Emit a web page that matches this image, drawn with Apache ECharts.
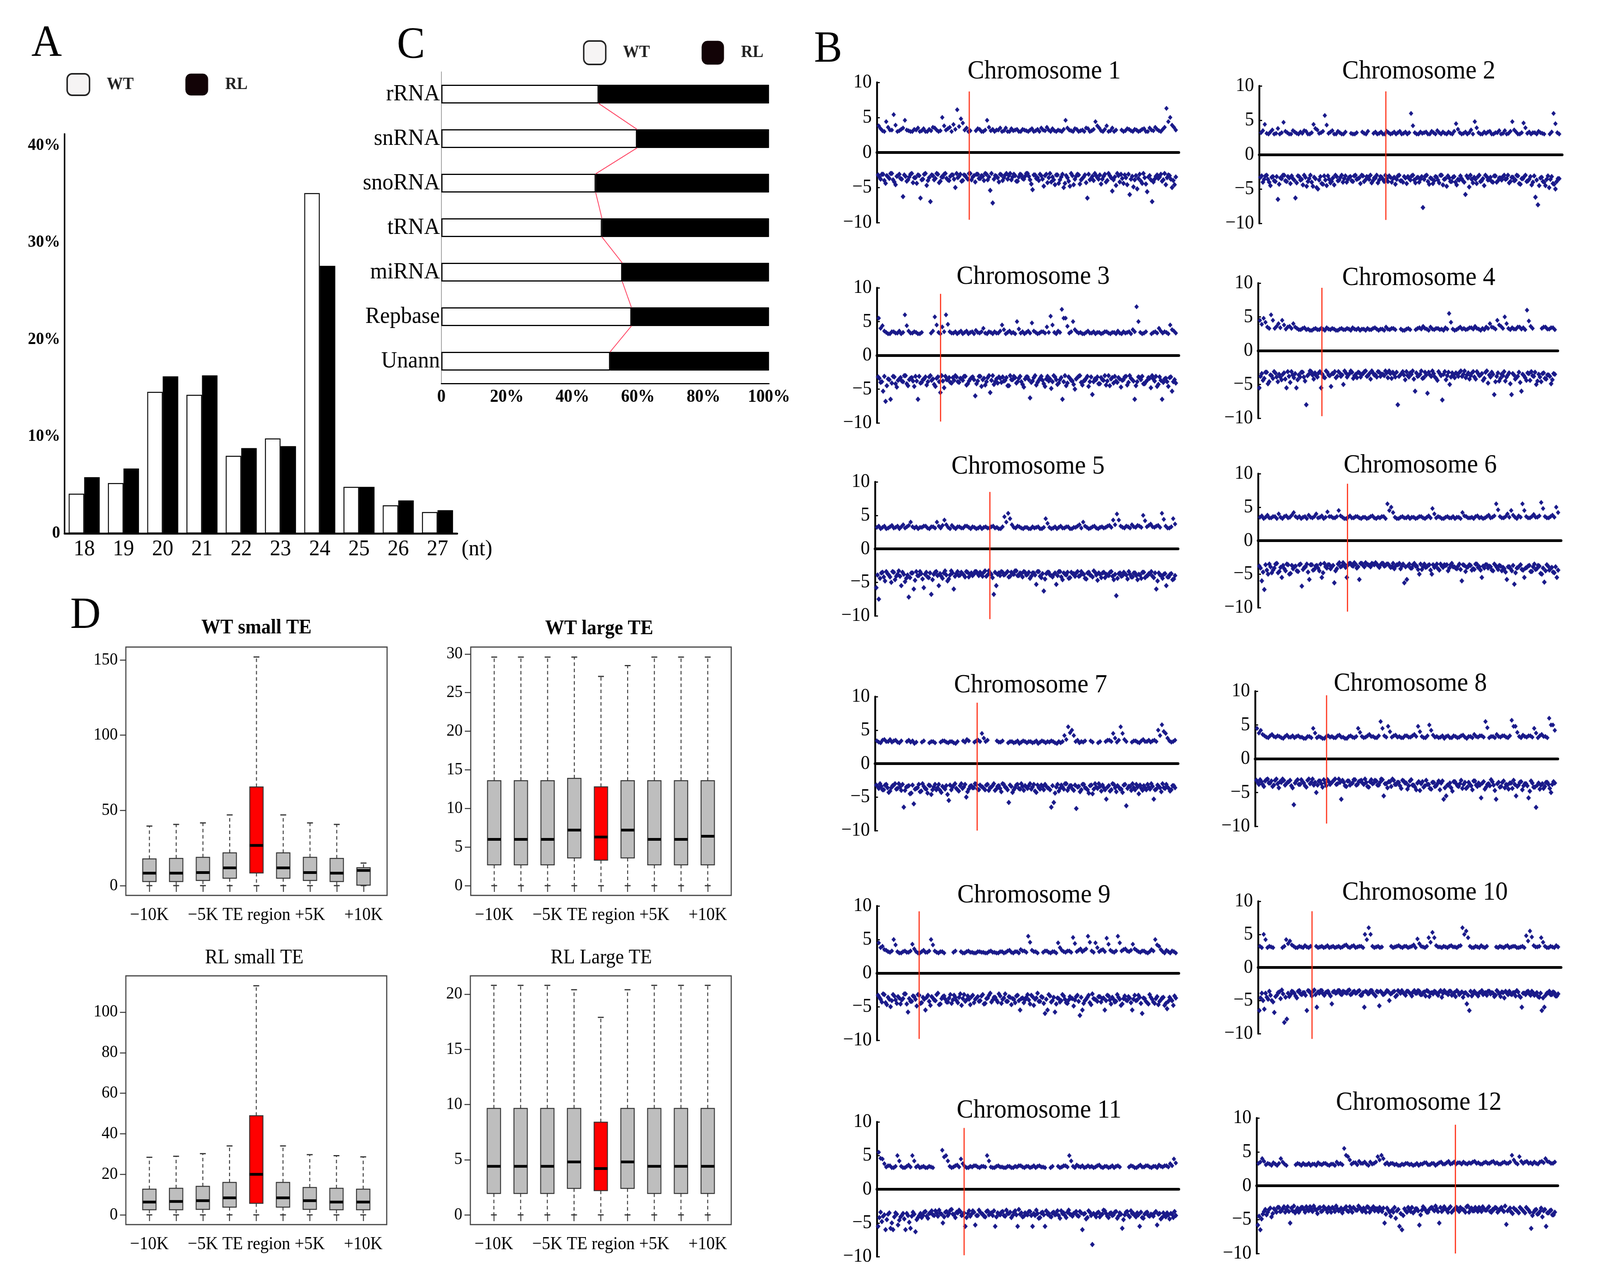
<!DOCTYPE html>
<html><head><meta charset="utf-8">
<script src="https://cdn.jsdelivr.net/npm/echarts@6/dist/echarts.min.js"></script>
<style>html,body{margin:0;padding:0;background:#fff;overflow:hidden}#c{width:4361px;height:3283px;transform-origin:0 0}</style>
</head><body><div id="c"></div>
<script>
const SERIF = '"Liberation Serif", "Times New Roman", serif';

// ---------- Panel A: length distribution ----------
const A_LENGTHS = ['18','19','20','21','22','23','24','25','26','27'];
const A_WT = [4.1, 5.2, 14.6, 14.3, 8.0, 9.8, 35.1, 4.8, 2.9, 2.2];
const A_RL = [5.8, 6.7, 16.2, 16.3, 8.8, 9.0, 27.6, 4.8, 3.4, 2.4];
const A_TICKS = [0, 10, 20, 30, 40];

// ---------- Panel C: annotation shares ----------
const C_CLASSES = ['rRNA','snRNA','snoRNA','tRNA','miRNA','Repbase','Unann'];
const C_WT = [48.0, 59.7, 47.1, 49.0, 55.2, 58.0, 51.5];
const C_RL = [52.0, 40.3, 52.9, 51.0, 44.8, 42.0, 48.5];

// ---------- Panel B: chromosome scatter ----------
const CHR_NAMES = ['Chromosome 1','Chromosome 2','Chromosome 3','Chromosome 4','Chromosome 5','Chromosome 6','Chromosome 7','Chromosome 8','Chromosome 9','Chromosome 10','Chromosome 11','Chromosome 12'];
const CHR_CENTRO = [0.306, 0.418, 0.211, 0.213, 0.379, 0.295, 0.337, 0.236, 0.140, 0.178, 0.289, 0.660];
const CHR_RED_TOP = [8.7, 9.2, 9.1, 9.3, 8.5, 8.5, 9.1, 9.4, 9.2, 8.5, 9.1, 9.0];
const CHR_RED_BOTTOM = [-9.6, -9.5, -9.8, -9.7, -10.5, -10.6, -10.0, -9.6, -9.8, -10.8, -9.8, -10.0];

const CHR1_UP = [3.8,3.1,4.4,3.2,5.4,3.0,3.3,4.6,3.1,3.0, 3.2,3.0,3.4,3.0,3.1,3.5,3.0,5.0,3.2,3.6, 4.0,6.1,4.8,3.2,3.0,null,3.1,3.3,3.0,4.6, 3.1,3.0,3.2,3.0,3.5,3.0,3.1,3.3,3.0,3.2, 3.0,3.4,3.1,3.0,3.2,3.6,3.0,3.1,3.2,3.0, 4.6,3.2,3.0,3.3,3.1,3.0,3.4,3.1,4.4,3.5, 3.0,3.8,3.1,3.0,null,3.2,3.1,3.3,3.0,3.2, 3.1,3.4,3.0,3.2,3.6,3.1,3.3,6.3,5.0,3.6];
const CHR1_UPB = [3.4,3.0,3.6,3.2,3.9,3.1,3.5,3.2,3.0,3.3, 3.5,3.1,3.0,3.3,3.6,3.2,3.1,3.8,3.4,3.0, 3.3,3.7,4.2,3.5,3.1,null,3.4,3.0,3.2,3.6, 3.3,3.2,3.5,3.1,3.0,3.4,3.2,3.0,3.3,3.1, 3.2,3.0,3.3,3.5,3.1,3.2,3.4,3.0,3.1,3.3, 3.5,3.1,3.4,3.0,3.2,3.5,3.0,3.3,3.8,3.1, 3.3,3.0,3.5,3.2,null,3.0,3.4,3.1,3.3,3.0, 3.3,3.0,3.5,3.1,3.3,3.0,3.6,4.4,3.9,3.2];
const CHR1_LOW = [-3.2,-3.8,-3.1,-4.4,-3.5,-3.0,-3.9,-4.6,-3.3,-3.7, -6.3,-3.4,-3.9,-3.1,-4.3,-3.6,-3.2,-6.5,-3.8,-3.0, -4.0,-7.0,-3.3,-3.7,-3.1,-4.1,-3.5,-3.0,-3.9,-3.4, -3.2,-5.0,-3.6,-3.1,-4.0,-3.3,-3.8,-3.0,-3.5,-4.2, -3.1,-3.7,-3.4,-3.0,-3.9,-5.4,-7.2,-3.3,-3.6,-3.1, -4.0,-3.2,-3.8,-3.0,-3.5,-3.3,-4.1,-3.1,-3.7,-3.4, -3.0,-3.9,-5.3,-3.2,-3.6,-3.1,-3.8,-3.3,-4.3,-3.0, -3.5,-4.6,-3.2,-3.9,-3.1,-4.4,-3.6,-4.8,-3.3,-3.8, -3.1,-4.5,-3.7,-3.2,-6.5,-3.9,-3.4,-3.0,-3.6,-3.2, -3.8,-3.1,-4.0,-3.3,-5.5,-3.5,-3.0,-4.2,-3.7,-3.2, -4.6,-6.0,-3.4,-3.9,-5.2,-3.1,-4.4,-3.6,-5.6,-3.3, -7.0,-3.8,-3.2,-3.5,-4.1,-3.0,-3.6,-3.3,-5.0,-4.6];
const CHR1_LOWB = [-3.5,-3.1,-4.0,-3.3,-3.7,-3.0,-4.2,-3.4,-3.1,-3.8, -3.2,-4.1,-3.5,-3.0,-3.6,-4.4,-3.3,-3.9,-3.1,-4.7, -3.6,-3.2,-3.9,-3.0,-4.3,-3.5,-3.1,-3.7,-4.0,-3.2, -3.8,-3.0,-3.4,-4.1,-3.2,-3.6,-3.0,-3.9,-3.3,-3.1, -3.7,-3.3,-4.0,-3.1,-3.5,-3.0,-3.8,-3.4,-4.2,-3.2, -3.6,-3.0,-3.3,-3.9,-3.1,-4.1,-3.5,-3.2,-3.8,-3.0, -3.4,-4.5,-3.2,-3.7,-4.0,-3.3,-4.8,-3.1,-3.6,-4.2, -3.9,-3.2,-4.4,-3.5,-5.0,-3.3,-4.1,-3.0,-4.6,-3.4, -3.2,-3.9,-3.5,-4.3,-3.1,-3.7,-4.0,-3.3,-3.8,-4.5, -3.4,-4.2,-3.0,-3.6,-3.9,-4.7,-3.3,-3.1,-4.4,-3.6, -3.1,-3.8,-4.9,-3.3,-3.7,-4.1,-3.0,-4.5,-3.5,-3.9, -4.2,-3.4,-3.7,-3.1,-3.9,-4.6,-3.2,-3.8,-4.0,-3.5];
const CHR2_UP = [3.2,4.4,3.0,3.6,3.1,3.0,4.7,3.2,3.0,3.3, 3.0,3.1,3.4,3.0,4.4,3.6,3.2,5.7,3.1,3.5, 3.0,3.2,3.0,null,3.1,3.0,null,3.3,3.0,null, 3.1,3.0,3.3,3.0,3.2,3.1,3.0,3.4,3.1,3.0, 6.0,3.2,3.0,3.1,3.3,3.0,3.2,3.5,3.0,3.1, 3.3,3.0,4.5,3.2,3.1,3.0,3.6,4.8,3.2,3.0, 3.1,3.4,3.0,3.2,3.0,3.5,3.1,4.8,3.3,3.0, 4.6,3.1,3.0,3.2,3.4,3.1,null,3.0,6.0,3.2];
const CHR2_UPB = [3.5,3.1,3.3,3.0,3.8,3.2,3.4,3.0,3.5,3.1, 3.3,3.5,3.0,3.2,3.8,3.1,3.4,4.3,3.3,3.0, 3.4,3.0,3.3,null,3.0,3.2,null,3.1,3.4,null, 3.3,3.1,3.0,3.4,3.0,3.3,3.2,3.0,3.3,3.2, 4.2,3.0,3.3,3.2,3.0,3.4,3.0,3.2,3.3,3.0, 3.1,3.4,3.7,3.0,3.3,3.2,3.0,3.9,3.0,3.3, 3.3,3.0,3.2,3.5,3.1,3.0,3.4,3.6,3.0,3.2, 3.9,3.3,3.2,3.0,3.2,3.0,null,3.3,4.5,3.0];
const CHR2_LOW = [-3.3,-4.0,-3.1,-3.6,-4.5,-3.2,-3.9,-6.5,-3.4,-3.0, -3.8,-3.2,-4.2,-3.5,-6.3,-3.1,-3.7,-4.4,-3.3,-3.9, -3.0,-4.6,-3.5,-5.0,-3.2,-4.3,-3.7,-3.1,-4.1,-3.4, -3.0,-3.8,-3.3,-4.0,-3.1,-3.6,-3.2,-3.9,-3.0,-3.5, -4.2,-3.1,-3.7,-3.3,-3.0,-3.8,-3.4,-4.1,-3.2,-3.6, -3.0,-3.9,-3.3,-3.5,-4.3,-3.1,-3.8,-4.0,-3.4,-3.2, -3.7,-3.0,-4.1,-3.3,-3.6,-7.7,-3.1,-3.9,-3.4,-4.2, -3.2,-3.7,-3.0,-4.4,-3.5,-3.1,-3.9,-3.3,-4.0,-3.6, -3.1,-3.8,-5.8,-3.4,-3.0,-4.1,-3.6,-3.2,-3.9,-3.5, -3.0,-3.7,-3.3,-4.0,-3.1,-3.8,-3.4,-3.2,-3.6,-3.0, -3.9,-3.3,-3.7,-3.1,-4.3,-3.5,-3.0,-3.8,-3.2,-4.0, -6.2,-7.3,-3.4,-3.9,-4.5,-3.1,-3.6,-4.2,-5.0,-3.5];
const CHR2_LOWB = [-3.1,-3.6,-3.0,-4.0,-3.3,-3.8,-3.2,-4.3,-3.5,-3.0, -3.9,-3.4,-3.1,-3.7,-4.1,-3.2,-3.6,-3.0,-4.6,-3.5, -4.0,-3.3,-4.8,-3.7,-4.2,-3.1,-4.5,-3.6,-3.9,-4.4, -3.2,-3.7,-3.0,-3.5,-4.0,-3.3,-3.8,-3.1,-3.6,-3.4, -3.0,-3.9,-3.2,-3.6,-4.1,-3.4,-3.0,-3.7,-3.3,-3.9, -3.5,-3.1,-4.0,-3.3,-3.6,-3.0,-3.8,-3.2,-4.2,-3.5, -3.1,-3.7,-3.4,-4.0,-3.2,-3.6,-3.0,-4.3,-3.5,-3.8, -3.3,-4.1,-3.0,-3.6,-4.6,-3.4,-3.9,-3.2,-4.4,-3.7, -3.5,-4.0,-3.1,-4.7,-3.6,-3.3,-4.2,-3.0,-3.8,-4.5, -3.2,-3.6,-3.9,-3.1,-4.0,-3.4,-3.7,-3.0,-3.5,-4.1, -3.3,-3.8,-3.0,-4.2,-3.5,-3.2,-3.9,-3.6,-4.4,-3.1, -3.7,-4.5,-3.3,-4.0,-3.6,-4.8,-3.2,-4.3,-3.9,-3.5];
const CHR3_UP = [5.5,4.4,3.4,3.2,3.5,3.3,3.2,6.0,3.6,3.3, 3.4,3.2,null,null,3.3,5.7,3.4,4.2,6.0,3.5, 3.3,3.2,3.6,3.4,3.2,3.5,3.7,3.3,4.0,3.2, 3.4,3.5,3.3,4.5,3.2,3.6,3.4,5.0,3.3,3.2, 3.6,4.8,3.4,3.3,3.5,4.2,5.8,3.4,3.6,6.8, 5.5,3.3,5.0,3.5,3.4,3.2,3.6,3.3,3.2,3.4, 3.3,3.5,3.2,3.4,3.6,3.2,3.3,3.5,3.8,7.2, 3.4,3.3,null,3.2,3.5,4.0,3.3,3.4,4.5,3.6];
const CHR3_UPB = [4.0,3.6,3.2,3.5,3.3,3.6,3.4,4.4,3.3,3.5, 3.2,3.4,null,null,3.6,4.5,3.2,3.5,4.6,3.3, 3.5,3.4,3.2,3.6,3.4,3.2,3.4,3.5,3.3,3.5, 3.2,3.3,3.6,3.8,3.4,3.3,3.2,3.9,3.5,3.4, 3.3,3.6,3.2,3.5,3.3,3.4,4.5,3.2,3.4,5.5, 4.3,3.5,3.8,3.3,3.2,3.4,3.3,3.5,3.4,3.2, 3.5,3.3,3.4,3.2,3.3,3.5,3.4,3.2,3.5,5.0, 3.2,3.5,null,3.4,3.3,3.6,3.5,3.2,3.8,3.3];
const CHR3_LOW = [-3.2,-4.0,-5.3,-6.8,-3.5,-6.5,-3.1,-4.2,-3.7,-3.3, -3.9,-3.0,-4.5,-3.4,-3.8,-3.1,-6.5,-4.1,-3.6,-3.2, -3.9,-3.0,-3.5,-4.6,-3.2,-5.5,-3.8,-3.1,-3.6,-4.0, -3.3,-3.0,-3.9,-3.4,-3.7,-3.1,-4.2,-3.5,-3.2,-6.0, -3.8,-3.1,-3.6,-4.4,-3.3,-5.5,-3.0,-3.9,-4.1,-3.4, -3.2,-3.7,-4.5,-3.0,-3.6,-3.3,-3.9,-3.1,-4.3,-3.5, -3.2,-6.3,-3.8,-3.0,-4.0,-3.4,-3.7,-4.6,-3.1,-3.5, -3.9,-3.2,-4.3,-3.6,-6.5,-3.0,-4.1,-3.4,-3.8,-5.0, -3.3,-3.0,-4.4,-3.7,-3.1,-3.9,-5.8,-3.5,-3.2,-4.2, -3.6,-3.0,-3.8,-4.5,-3.3,-3.1,-4.0,-3.5,-3.7,-3.2, -4.4,-3.0,-3.6,-6.5,-3.9,-3.3,-3.1,-4.2,-3.7,-3.4, -3.0,-3.8,-4.6,-3.2,-6.5,-3.5,-3.9,-3.3,-5.3,-3.6];
const CHR3_LOWB = [-3.4,-3.9,-3.1,-4.5,-3.6,-4.1,-3.2,-4.7,-3.5,-3.8, -3.0,-4.2,-3.6,-3.3,-4.6,-3.8,-3.1,-4.0,-3.5,-4.4, -3.2,-3.7,-4.3,-3.4,-3.9,-3.0,-4.8,-3.6,-3.3,-4.1, -3.7,-3.2,-4.0,-3.5,-3.1,-4.4,-3.8,-3.3,-3.6,-4.2, -3.1,-4.6,-3.4,-3.9,-3.0,-3.7,-4.3,-3.5,-3.2,-4.0, -3.8,-3.3,-4.5,-3.6,-3.1,-4.1,-3.4,-3.9,-4.7,-3.2, -3.6,-4.0,-3.3,-4.4,-3.7,-3.1,-4.2,-3.5,-3.8,-4.9, -3.0,-3.6,-4.1,-3.3,-3.9,-4.5,-3.2,-3.7,-4.3,-3.5, -3.1,-4.0,-3.8,-3.4,-4.6,-3.2,-3.9,-3.6,-4.2,-3.3, -3.7,-4.4,-3.0,-3.5,-4.1,-3.8,-3.3,-4.7,-3.6,-3.1, -4.0,-3.4,-3.8,-4.5,-3.2,-3.6,-4.2,-3.9,-3.3,-4.8, -3.5,-3.1,-4.3,-3.7,-4.0,-3.4,-4.6,-3.2,-3.9,-4.1];
const CHR4_UP = [4.5,4.8,3.5,5.3,3.3,4.0,4.5,3.2,3.6,4.0, 3.3,3.1,3.4,3.2,3.0,3.3,3.1,3.2,3.4,3.1, 3.2,3.0,3.3,3.1,3.2,3.4,3.1,3.0,3.2,3.3, 3.1,3.4,3.0,3.2,3.5,3.1,3.3,null,3.2,3.0, 3.3,null,3.1,3.4,3.6,3.2,3.5,3.1,3.3,3.2, 3.4,5.5,3.2,3.1,3.5,3.3,3.2,3.4,3.6,3.2, 3.3,3.5,4.0,3.4,4.5,3.6,5.0,3.3,3.4,3.2, 3.5,3.4,6.0,3.6,null,null,3.3,3.5,3.2,3.4];
const CHR4_UPB = [3.9,4.2,3.3,4.5,3.6,3.4,3.8,3.5,3.3,3.5, 3.1,3.3,3.1,3.0,3.2,3.1,3.3,3.0,3.2,3.3, 3.0,3.2,3.1,3.3,3.0,3.2,3.3,3.2,3.0,3.1, 3.3,3.2,3.2,3.0,3.2,3.3,3.1,null,3.0,3.2, 3.1,null,3.3,3.2,3.3,3.0,3.2,3.3,3.1,3.0, 3.2,4.2,3.0,3.3,3.2,3.1,3.4,3.2,3.3,3.0, 3.1,3.3,3.5,3.2,3.8,3.3,4.0,3.1,3.2,3.5, 3.2,3.1,4.4,3.3,null,null,3.5,3.2,3.4,3.1];
const CHR4_LOW = [-5.5,-3.4,-4.1,-3.2,-4.6,-3.7,-3.1,-3.9,-3.5,-4.3, -3.3,-5.5,-3.8,-3.1,-4.0,-5.5,-3.6,-3.2,-3.9,-8.0, -3.5,-3.1,-4.2,-3.7,-3.3,-5.5,-3.9,-3.0,-3.6,-5.3, -3.4,-4.0,-3.1,-3.8,-5.0,-3.3,-3.6,-3.0,-4.1,-3.5, -3.2,-3.9,-3.4,-3.0,-3.7,-4.2,-3.3,-3.6,-3.1,-3.8, -3.5,-3.0,-4.0,-3.4,-3.2,-3.9,-8.0,-3.6,-3.1,-4.3, -3.7,-3.3,-3.0,-6.0,-3.8,-3.5,-4.1,-3.2,-6.3,-3.6, -3.0,-3.9,-4.4,-3.4,-7.3,-3.1,-3.7,-5.0,-3.3,-4.0, -3.5,-3.2,-3.8,-3.0,-3.6,-4.2,-3.3,-3.9,-3.1,-3.7, -3.4,-4.1,-3.0,-3.6,-3.2,-6.5,-3.8,-4.5,-3.5,-3.1, -3.9,-3.3,-6.5,-3.6,-4.0,-3.2,-6.0,-3.7,-4.4,-3.4, -3.1,-3.8,-5.0,-3.5,-4.6,-3.3,-4.2,-3.6,-4.9,-3.4];
const CHR4_LOWB = [-3.8,-4.4,-3.2,-4.9,-3.6,-4.1,-3.3,-4.6,-3.9,-3.5, -4.2,-3.1,-4.7,-3.6,-3.4,-4.3,-3.9,-3.2,-4.5,-3.7, -3.0,-3.6,-3.3,-3.9,-3.1,-3.5,-4.0,-3.2,-3.7,-3.4, -3.1,-3.8,-3.3,-3.6,-3.0,-3.9,-3.4,-3.2,-3.7,-4.0, -3.3,-3.5,-3.1,-3.8,-3.4,-3.0,-3.6,-3.9,-3.2,-3.5, -3.7,-3.3,-3.0,-4.1,-3.5,-3.2,-3.8,-3.4,-3.6,-3.1, -3.9,-3.5,-4.2,-3.3,-3.7,-3.0,-4.0,-3.6,-3.2,-3.8, -3.4,-4.1,-3.1,-3.7,-3.5,-4.3,-3.2,-3.9,-3.6,-3.3, -3.8,-3.0,-3.5,-4.0,-3.3,-3.7,-3.1,-4.2,-3.4,-3.6, -4.4,-3.2,-4.8,-3.9,-3.5,-4.6,-3.3,-4.1,-3.7,-4.5, -3.6,-4.9,-3.4,-4.2,-3.8,-4.7,-3.5,-4.0,-3.3,-4.4, -3.7,-3.2,-4.5,-3.9,-3.4,-4.1,-3.6,-3.8,-4.3,-3.5];
const CHR5_UP = [3.2,3.0,3.4,3.1,3.5,3.2,3.0,3.6,3.3,4.0, 3.1,3.0,3.2,3.4,3.0,3.3,4.0,3.1,4.3,3.2, 3.5,3.0,3.3,3.1,3.4,3.0,3.2,3.1,3.0,3.3, 3.1,3.4,3.2,3.0,4.8,5.3,3.6,3.1,3.3,3.0, 3.2,3.0,3.1,3.3,3.0,4.5,3.2,3.1,3.0,3.4, 3.1,3.3,3.0,3.2,3.6,4.0,3.2,3.1,3.4,3.0, 3.3,3.2,3.5,4.3,5.2,3.4,3.1,3.3,3.6,3.2, 3.4,5.0,3.3,3.7,3.2,3.5,5.3,3.4,3.1,4.5];
const CHR5_UPB = [3.4,3.2,3.0,3.3,3.1,3.4,3.3,3.1,3.5,3.3, 3.3,3.2,3.4,3.1,3.3,3.1,3.4,3.5,3.6,3.0, 3.2,3.3,3.1,3.4,3.2,3.3,3.0,3.3,3.2,3.1, 3.3,3.1,3.0,3.3,4.0,4.5,3.2,3.4,3.1,3.2, 3.0,3.3,3.2,3.0,3.2,3.8,3.0,3.3,3.2,3.1, 3.3,3.0,3.2,3.4,3.1,3.4,3.0,3.3,3.1,3.2, 3.1,3.4,3.2,3.6,4.3,3.2,3.4,3.1,3.3,3.5, 3.2,4.2,3.5,3.3,3.4,3.2,4.4,3.1,3.3,3.7];
const CHR5_LOW = [-5.8,-7.5,-3.6,-4.2,-3.4,-3.9,-5.0,-3.5,-4.1,-3.3, -5.5,-3.8,-4.4,-7.2,-3.6,-6.0,-3.4,-4.0,-3.7,-5.8, -3.5,-4.3,-6.8,-3.8,-3.4,-5.5,-4.1,-3.6,-3.9,-4.5, -3.3,-6.0,-3.7,-4.0,-3.5,-3.9,-3.4,-4.2,-3.6,-3.8, -3.4,-4.0,-3.7,-3.5,-4.1,-3.3,-3.8,-6.8,-5.5,-3.6, -3.4,-3.9,-3.6,-4.2,-3.5,-3.8,-3.3,-4.0,-3.7,-3.4, -3.9,-3.5,-4.1,-3.6,-5.3,-3.4,-4.3,-6.3,-3.7,-3.5, -4.0,-3.8,-5.3,-3.4,-4.2,-3.6,-3.9,-4.4,-3.5,-3.7, -3.6,-4.1,-3.4,-3.8,-4.5,-3.5,-4.0,-3.3,-3.9,-3.6, -4.3,-3.5,-3.8,-4.0,-3.4,-4.6,-7.0,-3.7,-4.1,-3.5, -3.9,-3.4,-4.2,-3.6,-4.0,-3.8,-4.4,-3.5,-4.1,-3.7, -3.4,-4.3,-6.0,-3.6,-4.0,-3.8,-5.5,-4.2,-3.7,-4.5];
const CHR5_LOWB = [-3.9,-4.4,-3.5,-4.8,-3.7,-4.2,-3.4,-4.6,-3.8,-4.1, -3.5,-4.9,-3.9,-4.3,-3.6,-4.7,-4.0,-3.4,-4.5,-3.8, -4.2,-3.6,-4.6,-3.5,-4.0,-3.7,-4.4,-3.3,-4.8,-3.9, -3.6,-4.1,-3.4,-3.9,-3.7,-4.2,-3.5,-3.8,-4.0,-3.4, -3.7,-3.5,-4.1,-3.3,-3.9,-3.6,-4.3,-3.5,-3.8,-4.0, -3.5,-3.8,-3.4,-4.1,-3.7,-3.3,-4.0,-3.6,-4.2,-3.5, -3.8,-4.4,-3.6,-3.9,-3.4,-4.1,-3.7,-4.5,-3.5,-3.9, -4.2,-3.6,-4.0,-3.4,-4.6,-3.8,-3.5,-4.3,-3.7,-4.1, -3.4,-4.0,-3.7,-4.4,-3.6,-3.9,-4.2,-3.5,-4.7,-3.8, -3.6,-4.3,-3.9,-3.5,-4.1,-3.8,-4.4,-3.6,-4.0,-3.7, -4.5,-3.8,-4.2,-3.6,-4.6,-3.9,-3.5,-4.3,-4.0,-3.7, -4.1,-3.6,-4.8,-3.9,-4.4,-3.7,-4.2,-3.8,-4.6,-4.0];
const CHR6_UP = [3.5,3.3,3.8,3.4,3.6,4.0,3.3,3.7,3.5,4.2, 3.4,3.3,3.6,3.8,3.4,4.0,3.5,3.3,4.3,3.6, 3.4,4.5,3.5,3.3,3.7,3.4,3.6,3.3,3.5,3.4, 3.7,3.3,3.4,3.6,5.5,5.0,3.5,3.3,3.6,3.4, 3.3,3.5,3.4,3.6,3.3,3.7,4.8,3.4,3.5,3.3, 3.6,3.4,3.3,3.5,4.2,3.6,3.4,3.3,3.7,3.5, 3.4,3.8,3.5,5.5,3.6,3.4,4.0,4.5,3.5,3.7, 5.5,3.6,3.4,3.9,3.5,5.7,3.6,3.4,3.8,5.0];
const CHR6_UPB = [3.7,3.5,3.4,3.6,3.3,3.5,3.6,3.4,3.8,3.6, 3.6,3.5,3.3,3.5,3.6,3.4,3.7,3.5,3.6,3.4, 3.6,3.7,3.3,3.5,3.4,3.6,3.4,3.5,3.3,3.6, 3.4,3.5,3.6,3.3,4.5,4.2,3.3,3.5,3.4,3.6, 3.5,3.3,3.6,3.4,3.5,3.4,4.0,3.6,3.3,3.5, 3.4,3.6,3.5,3.3,3.7,3.4,3.5,3.6,3.4,3.3, 3.6,3.4,3.7,4.6,3.4,3.6,3.5,3.8,3.3,3.5, 4.5,3.4,3.6,3.5,3.7,4.8,3.4,3.6,3.5,4.2];
const CHR6_LOW = [-3.8,-6.0,-7.3,-4.4,-3.5,-4.8,-4.1,-3.4,-4.6,-5.5, -4.2,-3.5,-5.0,-3.7,-3.9,-4.5,-3.6,-6.8,-4.0,-3.5, -5.8,-3.6,-4.3,-3.7,-4.5,-5.5,-3.4,-4.1,-3.6,-3.9, -6.3,-4.2,-3.3,-3.8,-3.5,-5.5,-3.4,-3.7,-3.3,-4.1, -5.8,-3.4,-3.9,-3.5,-3.7,-3.4,-3.6,-3.5,-4.0,-3.4, -3.8,-3.5,-3.7,-3.9,-4.2,-3.6,-3.4,-3.8,-6.3,-5.8, -3.5,-4.1,-3.4,-3.8,-5.0,-4.3,-3.5,-3.9,-3.6,-5.0, -4.0,-3.5,-4.4,-3.8,-3.6,-3.6,-4.1,-3.4,-3.9,-4.2, -3.5,-6.0,-3.7,-4.0,-3.6,-4.4,-4.3,-3.5,-3.9,-5.5, -4.1,-3.6,-3.8,-4.4,-3.5,-4.0,-3.7,-4.5,-4.2,-5.8, -3.9,-4.5,-6.5,-4.1,-3.8,-4.3,-5.5,-4.0,-3.7,-4.6, -3.5,-4.2,-3.8,-5.0,-6.2,-3.6,-4.4,-4.0,-4.8,-5.5];
const CHR6_LOWB = [-4.1,-4.7,-3.6,-5.0,-3.9,-4.4,-3.5,-4.8,-4.0,-3.7, -4.5,-3.6,-4.9,-4.2,-3.8,-4.6,-3.5,-4.3,-3.9,-4.7, -3.6,-4.4,-3.8,-4.1,-3.5,-4.8,-3.9,-3.6,-4.2,-3.7, -4.5,-3.5,-3.9,-3.3,-4.0,-3.6,-3.4,-3.8,-3.5,-3.9, -3.4,-3.7,-3.3,-3.6,-3.9,-3.5,-3.3,-3.8,-3.6,-3.4, -3.7,-3.5,-4.0,-3.4,-3.8,-3.6,-4.2,-3.5,-3.9,-3.7, -4.1,-3.6,-3.8,-4.3,-3.5,-3.9,-4.0,-3.7,-4.4,-3.6, -3.8,-4.2,-3.5,-4.0,-3.7,-4.5,-3.6,-3.9,-4.1,-3.8, -4.3,-3.6,-4.6,-3.9,-3.7,-4.2,-3.5,-4.0,-4.4,-3.8, -3.6,-4.1,-3.9,-4.5,-3.7,-4.3,-3.8,-4.0,-4.7,-3.9, -4.2,-3.7,-4.8,-4.0,-3.6,-4.4,-4.1,-3.8,-4.6,-3.9, -4.3,-3.7,-4.9,-4.1,-4.5,-3.8,-4.2,-4.7,-3.9,-4.4];
const CHR7_UP = [3.4,3.1,3.6,3.3,3.2,3.5,3.1,null,3.3,3.2, 3.0,null,3.2,null,3.1,3.3,null,3.2,3.4,3.1, 3.3,3.0,null,3.4,3.6,null,3.2,3.5,4.5,3.3, null,null,3.4,3.2,null,3.1,3.3,3.2,3.0,3.4, 3.1,3.3,3.2,3.0,3.4,3.1,3.2,3.3,3.0,3.1, 4.2,5.5,5.0,3.3,3.1,3.2,null,3.4,null,3.1, null,3.3,3.5,4.5,3.2,5.5,3.6,null,3.2,3.4, 3.1,3.6,3.3,3.2,3.5,5.0,5.8,4.5,3.4,3.3];
const CHR7_UPB = [3.2,3.5,3.3,3.6,3.4,3.2,3.4,null,3.5,3.4, 3.2,null,3.4,null,3.3,3.1,null,3.4,3.2,3.3, 3.1,3.3,null,3.2,3.4,null,3.4,3.3,3.8,3.5, null,null,3.2,3.4,null,3.3,3.1,3.4,3.2,3.3, 3.3,3.1,3.4,3.2,3.3,3.3,3.4,3.1,3.3,3.3, 3.6,4.6,4.2,3.5,3.3,3.4,null,3.2,null,3.3, null,3.5,3.3,3.8,3.5,4.5,3.3,null,3.4,3.2, 3.4,3.3,3.5,3.4,3.3,4.2,4.8,3.8,3.2,3.5];
const CHR7_LOW = [-3.2,-3.7,-3.4,-3.9,-3.1,-4.3,-3.6,-3.2,-3.8,-3.0, -4.0,-6.5,-3.5,-3.3,-4.4,-6.0,-3.7,-3.1,-4.1,-3.4, -3.8,-3.2,-4.6,-3.5,-3.9,-3.1,-4.3,-3.6,-3.3,-5.5, -3.9,-3.2,-3.7,-4.1,-3.0,-3.5,-5.0,-3.8,-3.3,-3.6, -3.1,-3.9,-3.4,-3.7,-3.2,-4.0,-3.5,-3.0,-3.8,-3.3, -4.2,-3.1,-3.6,-5.8,-3.4,-3.9,-3.2,-3.7,-3.0,-4.0, -3.5,-3.3,-3.8,-3.1,-4.3,-3.6,-3.2,-3.9,-3.4,-3.7, -6.5,-5.8,-3.5,-4.1,-3.2,-3.8,-3.0,-3.6,-3.3,-4.0, -6.7,-3.4,-3.9,-3.1,-3.7,-4.4,-3.2,-3.8,-3.5,-3.0, -4.1,-3.6,-5.3,-3.3,-3.9,-3.1,-4.2,-3.5,-3.8,-3.2, -6.3,-3.4,-4.0,-3.6,-3.1,-4.5,-3.7,-3.3,-3.9,-3.5, -3.0,-5.3,-3.8,-3.4,-4.2,-3.6,-3.1,-3.7,-3.9,-3.3];
const CHR7_LOWB = [-3.4,-3.0,-3.9,-3.2,-3.6,-4.1,-3.3,-3.0,-3.7,-3.5, -3.1,-4.0,-3.4,-4.5,-3.2,-3.8,-3.6,-4.2,-3.0,-3.7, -4.4,-3.3,-3.9,-3.1,-3.6,-4.0,-3.4,-3.8,-4.6,-3.2, -3.5,-3.0,-3.9,-3.3,-3.7,-3.1,-4.2,-3.4,-3.6,-3.0, -3.8,-3.2,-3.5,-3.9,-3.1,-3.6,-3.3,-4.0,-3.4,-3.7, -3.0,-3.5,-3.9,-3.2,-4.3,-3.6,-3.1,-3.8,-3.4,-3.3, -3.7,-3.0,-3.5,-4.1,-3.2,-3.8,-3.4,-3.1,-3.6,-3.9, -3.3,-4.4,-3.1,-3.7,-3.5,-3.0,-4.0,-3.3,-3.8,-3.2, -3.5,-4.2,-3.1,-3.6,-3.9,-3.3,-4.5,-3.0,-3.7,-3.4, -3.2,-3.9,-3.5,-4.1,-3.0,-3.6,-3.3,-3.8,-4.3,-3.1, -3.7,-3.4,-3.0,-3.9,-3.5,-3.2,-4.0,-3.6,-3.1,-3.8, -3.4,-3.9,-3.2,-3.6,-3.0,-3.7,-3.5,-4.1,-3.3,-3.6];
const CHR8_UP = [4.5,4.2,3.4,3.1,3.6,3.2,3.3,3.0,3.5,3.2, 3.1,3.4,3.2,3.0,3.3,4.5,3.1,3.2,3.0,3.4, 3.3,3.1,3.5,3.2,3.0,3.4,3.1,4.5,3.3,3.2, 3.6,3.3,3.1,5.5,3.4,4.8,3.2,3.5,3.3,3.1, 3.4,3.2,3.6,4.8,3.3,3.1,5.0,3.5,3.3,3.2, 3.0,3.4,3.1,3.3,3.2,3.5,3.0,3.3,3.6,3.2, 3.4,5.5,3.1,3.3,3.6,3.2,3.4,3.1,5.7,4.8, 3.3,3.5,3.2,3.4,4.5,3.1,3.6,3.3,6.0,5.0];
const CHR8_UPB = [3.8,3.6,3.2,3.4,3.3,3.4,3.1,3.3,3.2,3.4, 3.3,3.2,3.0,3.3,3.1,3.8,3.3,3.0,3.3,3.2, 3.1,3.4,3.2,3.0,3.3,3.2,3.3,3.9,3.1,3.4, 3.3,3.1,3.4,4.5,3.2,4.0,3.4,3.2,3.1,3.4, 3.2,3.4,3.3,4.0,3.1,3.4,4.2,3.2,3.1,3.4, 3.3,3.1,3.4,3.1,3.4,3.2,3.3,3.1,3.3,3.4, 3.2,4.6,3.3,3.1,3.3,3.4,3.2,3.4,4.8,3.9, 3.1,3.3,3.4,3.2,3.8,3.4,3.3,3.1,5.0,4.2];
const CHR8_LOW = [-3.2,-3.8,-3.4,-4.1,-3.1,-3.6,-3.3,-3.9,-3.0,-4.3, -3.5,-3.2,-3.7,-3.4,-4.0,-6.8,-3.3,-3.8,-3.1,-3.6, -4.2,-3.0,-3.5,-3.9,-5.0,-3.3,-3.7,-3.1,-4.0,-3.4, -3.6,-3.2,-3.8,-3.0,-6.0,-3.5,-4.1,-3.3,-3.7,-3.1, -3.9,-3.4,-3.2,-3.8,-3.5,-4.2,-3.1,-3.6,-3.3,-3.9, -3.0,-5.5,-3.7,-3.4,-4.1,-3.2,-3.8,-3.5,-4.4,-3.3, -3.6,-4.0,-3.1,-3.9,-4.6,-3.4,-3.7,-4.2,-3.2,-3.8, -4.5,-3.5,-4.0,-3.3,-3.6,-6.0,-5.5,-3.9,-4.3,-3.4, -3.7,-4.1,-3.2,-3.8,-4.4,-3.5,-4.0,-3.3,-3.9,-3.6, -5.8,-3.4,-4.2,-3.7,-3.1,-3.9,-6.0,-3.5,-4.1,-3.3, -3.8,-4.5,-3.6,-3.2,-5.5,-3.9,-3.4,-4.0,-3.7,-5.8, -3.3,-4.2,-7.2,-3.6,-3.9,-4.4,-3.5,-3.8,-5.0,-3.4];
const CHR8_LOWB = [-3.5,-3.1,-3.8,-3.3,-3.0,-3.6,-4.1,-3.2,-3.7,-3.4, -3.0,-3.9,-3.5,-3.2,-4.3,-3.6,-3.1,-3.8,-3.4,-4.0, -3.2,-3.7,-3.0,-3.5,-3.9,-3.3,-4.2,-3.6,-3.1,-3.8, -3.4,-3.0,-3.7,-3.5,-3.2,-4.0,-3.3,-3.9,-3.6,-3.1, -3.8,-3.3,-3.6,-3.0,-4.1,-3.4,-3.7,-3.2,-3.9,-3.5, -3.1,-3.7,-4.3,-3.4,-3.0,-3.8,-3.5,-4.0,-3.2,-3.6, -4.5,-3.3,-3.9,-4.2,-3.6,-4.7,-3.4,-4.0,-3.8,-4.4, -3.5,-4.1,-3.7,-4.6,-3.3,-4.3,-3.9,-3.6,-4.8,-3.4, -4.0,-3.7,-4.4,-3.5,-4.2,-3.8,-4.6,-3.3,-4.1,-3.9, -3.6,-4.5,-3.8,-4.0,-3.4,-4.7,-3.7,-4.2,-3.5,-4.3, -3.9,-3.6,-4.4,-3.8,-4.1,-3.5,-4.6,-3.7,-4.0,-4.8, -3.6,-4.2,-3.9,-4.5,-3.7,-4.1,-3.5,-4.4,-3.8,-3.6];
const CHR9_UP = [4.5,4.0,3.4,3.1,5.0,3.2,3.0,3.3,3.1,4.3, 3.2,3.0,3.4,3.1,5.0,3.3,3.0,3.2,null,null, 3.1,null,3.2,3.0,3.3,3.1,3.0,3.2,3.1,3.0, 3.3,3.1,3.0,3.2,3.1,3.4,3.0,3.2,3.5,3.3, 5.5,3.4,3.2,null,3.1,3.3,3.0,3.2,4.5,3.4, 3.1,3.3,5.3,3.2,3.6,3.4,5.5,3.3,4.5,3.2, 3.5,5.2,3.4,3.1,5.5,3.3,3.6,3.2,4.3,3.4, 3.1,3.3,3.0,3.5,5.0,4.0,3.2,3.4,3.0,3.2];
const CHR9_UPB = [3.8,3.5,3.2,3.3,4.2,3.0,3.2,3.1,3.3,3.6, 3.0,3.2,3.1,3.3,4.2,3.1,3.2,3.0,null,null, 3.3,null,3.0,3.2,3.1,3.0,3.2,3.1,3.0,3.2, 3.1,3.0,3.2,3.0,3.3,3.1,3.2,3.0,3.3,3.1, 4.6,3.2,3.0,null,3.3,3.1,3.2,3.0,3.8,3.2, 3.3,3.1,4.4,3.4,3.2,3.6,4.6,3.1,3.8,3.4, 3.2,4.3,3.2,3.3,4.5,3.5,3.3,3.4,3.6,3.2, 3.3,3.1,3.2,3.3,4.2,3.5,3.0,3.2,3.3,3.0];
const CHR9_LOW = [-3.3,-3.9,-3.1,-4.4,-3.6,-5.0,-3.2,-4.0,-3.5,-4.6, -3.8,-3.1,-5.8,-4.2,-3.4,-3.9,-3.2,-4.5,-3.6,-5.5, -3.3,-4.8,-3.7,-4.1,-3.0,-4.6,-3.5,-3.9,-4.3,-3.2, -4.0,-3.6,-4.4,-3.1,-3.8,-4.2,-3.4,-4.7,-3.3,-3.9, -3.5,-4.1,-3.2,-4.5,-3.7,-3.0,-4.0,-3.6,-4.3,-3.4, -3.9,-3.1,-4.2,-3.6,-3.8,-4.4,-3.3,-5.5,-3.7,-4.0, -3.2,-4.6,-3.5,-3.9,-3.0,-4.2,-3.6,-6.0,-5.5,-3.4, -4.1,-5.8,-3.7,-4.3,-3.2,-3.9,-4.5,-3.5,-3.8,-4.0, -3.3,-6.3,-5.5,-4.1,-3.6,-4.4,-3.1,-3.9,-4.2,-3.5, -3.8,-5.5,-3.3,-4.0,-3.6,-4.3,-3.2,-3.9,-4.6,-3.4, -4.1,-3.7,-5.5,-3.3,-4.0,-3.6,-6.0,-3.8,-4.4,-3.2, -3.9,-4.5,-3.5,-4.2,-3.7,-4.8,-5.3,-3.6,-4.1,-3.4];
const CHR9_LOWB = [-3.6,-4.3,-3.2,-4.7,-3.9,-4.1,-3.4,-4.5,-3.7,-4.0, -3.1,-4.6,-3.8,-4.2,-3.5,-4.9,-3.3,-4.4,-3.9,-3.6, -4.2,-3.5,-4.0,-3.2,-4.7,-3.8,-3.4,-4.3,-3.7,-4.5, -3.3,-4.1,-3.6,-4.8,-3.2,-4.0,-3.9,-3.5,-4.4,-3.7, -4.2,-3.4,-4.6,-3.8,-3.3,-4.3,-3.6,-4.0,-3.1,-4.5, -3.7,-4.2,-3.5,-4.7,-3.9,-3.4,-4.1,-3.8,-4.4,-3.6, -4.0,-3.3,-4.8,-3.7,-4.2,-3.5,-4.5,-3.9,-3.2,-4.3, -3.6,-4.6,-3.8,-4.1,-3.4,-4.4,-4.0,-3.7,-4.9,-3.5, -4.2,-3.6,-4.5,-3.9,-3.3,-4.7,-3.8,-4.0,-3.5,-4.3, -3.7,-4.1,-3.4,-4.6,-3.9,-4.2,-3.6,-4.8,-3.8,-4.0, -3.5,-4.4,-3.9,-4.1,-3.3,-4.5,-3.7,-4.2,-4.6,-3.6, -4.3,-3.8,-4.7,-4.0,-3.6,-4.5,-4.2,-3.9,-4.8,-3.7];
const CHR10_UP = [3.2,5.0,3.0,3.1,null,null,3.0,4.2,4.0,3.2, 3.0,3.1,3.3,3.0,null,3.2,3.1,3.0,3.3,3.1, 3.0,3.2,3.1,3.4,3.0,3.3,3.1,3.2,5.0,6.0, 3.2,3.1,3.0,null,null,3.2,3.1,3.3,3.0,3.2, 3.1,3.4,4.3,3.2,3.0,4.5,5.3,3.3,3.1,3.2, 3.0,3.3,3.1,3.2,6.0,5.5,3.2,3.0,3.1,3.3, 3.0,null,null,3.1,3.2,3.0,3.3,3.1,3.2,3.0, 3.2,4.8,5.5,3.3,3.1,4.5,3.2,3.0,3.1,3.3];
const CHR10_UPB = [3.0,4.2,3.2,3.0,null,null,3.2,3.6,3.4,3.0, 3.2,3.0,3.1,3.2,null,3.0,3.2,3.1,3.0,3.2, 3.1,3.0,3.3,3.1,3.2,3.0,3.2,3.0,4.2,5.0, 3.0,3.2,3.1,null,null,3.0,3.2,3.1,3.2,3.0, 3.2,3.0,3.6,3.1,3.2,3.8,4.5,3.1,3.0,3.1, 3.2,3.1,3.0,3.3,5.0,4.5,3.0,3.2,3.0,3.1, 3.2,null,null,3.0,3.1,3.2,3.0,3.2,3.0,3.1, 3.0,4.0,4.6,3.1,3.2,3.8,3.0,3.2,3.0,3.1];
const CHR10_LOW = [-6.5,-3.9,-6.3,-4.5,-3.6,-5.0,-6.8,-4.2,-3.7,-3.4, -8.3,-7.8,-4.4,-3.6,-3.9,-4.6,-3.5,-4.1,-3.8,-6.5, -3.6,-4.3,-3.4,-6.0,-3.9,-3.5,-4.2,-3.7,-4.0,-5.5, -3.6,-3.8,-3.5,-4.1,-3.7,-3.9,-3.4,-4.0,-3.6,-3.8, -3.5,-4.2,-6.0,-3.7,-3.9,-3.5,-4.1,-3.6,-5.8,-3.8, -4.0,-3.5,-5.0,-3.9,-3.6,-4.2,-3.7,-3.5,-4.0,-3.6, -3.8,-4.3,-3.5,-3.9,-3.6,-4.1,-3.7,-3.5,-4.4,-3.8, -3.6,-4.0,-3.7,-4.5,-3.5,-3.9,-3.6,-4.2,-3.8,-3.5, -4.1,-3.7,-3.9,-5.5,-6.5,-4.3,-3.6,-4.0,-3.8,-3.5, -3.9,-4.2,-3.6,-3.8,-4.4,-3.5,-4.0,-3.7,-4.6,-3.9, -3.6,-4.1,-3.8,-3.5,-4.3,-6.0,-3.9,-3.7,-4.0,-3.6, -4.2,-3.8,-4.5,-6.5,-6.0,-3.9,-3.6,-4.1,-3.8,-4.3];
const CHR10_LOWB = [-4.6,-5.0,-3.9,-4.8,-4.2,-5.2,-4.4,-3.8,-4.7,-4.0, -4.5,-3.9,-4.1,-3.7,-4.3,-3.6,-4.0,-3.8,-4.2,-3.5, -3.9,-3.6,-4.1,-3.7,-3.5,-4.0,-3.8,-3.6,-4.3,-3.7, -3.9,-3.5,-4.0,-3.6,-3.8,-3.5,-4.1,-3.7,-3.9,-3.6, -4.2,-3.8,-3.6,-4.0,-3.5,-3.9,-4.3,-3.7,-3.6,-4.1, -3.8,-3.6,-4.0,-3.7,-4.4,-3.5,-3.9,-3.8,-4.2,-3.6, -4.0,-3.7,-3.9,-3.5,-4.1,-3.8,-4.3,-3.6,-3.9,-4.0, -3.7,-4.2,-3.5,-3.9,-3.8,-4.1,-3.6,-4.0,-4.4,-3.7, -3.9,-4.5,-3.8,-4.2,-3.6,-4.0,-3.9,-4.3,-3.7,-4.1, -3.8,-3.6,-4.0,-3.9,-4.2,-3.7,-4.4,-3.8,-3.6,-4.1, -4.0,-3.8,-4.3,-3.7,-4.5,-3.9,-4.1,-3.6,-4.2,-3.8, -4.0,-4.4,-3.9,-4.6,-4.2,-3.8,-4.1,-3.7,-4.3,-4.0];
const CHR11_UP = [5.5,4.5,3.3,3.5,3.2,5.0,3.4,3.2,3.6,5.0, 3.3,3.2,3.4,3.2,3.3,null,null,5.8,5.0,3.4, 3.3,3.6,4.5,3.4,3.2,3.3,3.5,3.2,3.4,5.0, 3.3,3.2,3.5,3.3,3.2,3.4,3.2,3.3,3.5,3.2, 3.4,3.3,3.2,3.5,3.3,null,3.2,null,3.4,3.3, 3.5,5.0,3.4,3.6,3.3,3.2,3.5,3.4,3.3,3.6, 3.2,3.4,3.3,3.2,3.5,null,null,3.3,3.4,3.2, 3.6,3.3,3.5,3.2,3.4,3.6,3.3,3.5,3.8,4.5];
const CHR11_UPB = [4.6,3.8,3.5,3.2,3.4,4.2,3.2,3.4,3.3,4.2, 3.5,3.3,3.2,3.4,3.2,null,null,4.8,4.2,3.2, 3.5,3.3,3.8,3.2,3.4,3.5,3.3,3.4,3.3,4.2, 3.2,3.4,3.3,3.2,3.4,3.2,3.4,3.5,3.3,3.4, 3.2,3.5,3.4,3.3,3.2,null,3.4,null,3.2,3.5, 3.3,4.2,3.2,3.4,3.5,3.3,3.3,3.2,3.5,3.3, 3.4,3.2,3.5,3.4,3.3,null,null,3.5,3.2,3.4, 3.3,3.5,3.3,3.4,3.2,3.4,3.5,3.3,3.5,3.9];
const CHR11_LOW = [-5.5,-3.4,-4.0,-6.0,-3.7,-5.8,-6.0,-3.5,-5.3,-4.1, -3.6,-6.0,-3.9,-5.8,-3.4,-6.3,-4.2,-3.6,-3.9,-3.3, -4.3,-3.5,-3.8,-3.2,-4.0,-3.6,-5.0,-3.4,-3.9,-3.1, -3.7,-4.2,-3.5,-3.3,-3.8,-5.5,-3.6,-4.0,-3.2,-5.3, -3.9,-3.4,-3.7,-4.1,-3.2,-3.6,-3.9,-5.5,-3.5,-3.8, -3.3,-4.0,-3.6,-3.4,-3.9,-3.2,-5.5,-3.7,-4.1,-3.5, -3.8,-3.3,-5.5,-3.9,-3.6,-4.2,-3.4,-5.5,-3.7,-4.0, -3.5,-3.8,-3.2,-4.3,-3.6,-3.9,-3.4,-3.7,-4.0,-3.5, -3.9,-3.3,-6.0,-3.6,-4.2,-3.4,-8.2,-3.8,-3.5,-4.1, -3.7,-3.2,-4.0,-3.6,-3.9,-3.4,-4.3,-3.5,-5.8,-3.8, -3.3,-4.1,-3.6,-3.9,-3.5,-5.5,-4.2,-3.7,-3.4,-4.0, -3.8,-3.5,-5.3,-3.6,-4.2,-3.9,-3.5,-4.4,-3.7,-3.3];
const CHR11_LOWB = [-4.2,-4.8,-3.8,-4.5,-3.5,-5.0,-4.1,-3.7,-4.6,-3.9, -4.4,-3.6,-4.9,-4.0,-3.7,-4.5,-3.9,-4.2,-3.4,-4.0, -3.6,-3.2,-3.9,-3.5,-3.1,-3.7,-4.1,-3.3,-3.6,-3.0, -3.8,-3.4,-3.1,-3.9,-3.5,-4.2,-3.2,-3.7,-3.4,-3.9, -3.1,-3.6,-4.0,-3.3,-3.8,-3.5,-3.2,-4.1,-3.7,-3.4, -3.9,-3.1,-3.6,-4.2,-3.4,-3.8,-3.0,-3.5,-4.0,-3.7, -3.3,-3.9,-3.6,-3.1,-4.3,-3.5,-3.8,-3.2,-3.6,-4.1, -3.4,-3.7,-3.9,-3.2,-3.5,-4.2,-3.1,-3.8,-3.6,-3.3, -4.0,-3.5,-3.7,-4.4,-3.2,-3.9,-3.6,-4.1,-3.4,-3.8, -3.1,-3.6,-4.2,-3.5,-3.8,-3.3,-4.0,-3.7,-4.5,-3.4, -3.9,-3.2,-3.6,-4.1,-3.8,-3.4,-4.3,-3.5,-3.9,-3.7, -4.0,-3.3,-3.7,-4.4,-3.5,-4.1,-3.8,-3.6,-4.2,-3.9];
const CHR12_UP = [3.3,4.0,3.1,3.2,3.4,3.0,4.0,3.2,null,null, 3.1,3.2,3.3,3.1,3.0,3.2,3.4,3.1,3.3,3.0, 3.2,3.5,3.3,5.5,4.3,3.2,3.4,3.6,3.3,3.2, 3.5,3.3,4.3,4.5,3.2,3.1,3.3,3.2,3.0,3.1, 3.3,3.2,3.1,3.0,3.2,3.4,3.1,3.3,3.2,3.5, 3.2,3.6,3.3,3.2,3.4,3.5,3.2,3.3,3.6,3.4, 3.2,3.5,3.3,3.6,3.4,3.2,3.5,3.3,4.5,3.4, 4.3,3.3,3.6,3.4,3.5,3.2,3.6,4.0,3.5,3.3];
const CHR12_UPB = [3.5,3.6,3.3,3.0,3.2,3.3,3.5,3.0,null,null, 3.3,3.0,3.1,3.3,3.2,3.0,3.2,3.3,3.1,3.2, 3.0,3.2,3.1,4.5,3.8,3.4,3.1,3.3,3.5,3.0, 3.2,3.5,3.8,4.0,3.4,3.3,3.1,3.0,3.2,3.3, 3.1,3.0,3.3,3.2,3.4,3.1,3.3,3.0,3.4,3.2, 3.4,3.2,3.5,3.4,3.2,3.3,3.4,3.5,3.3,3.2, 3.4,3.3,3.5,3.3,3.2,3.4,3.3,3.5,3.8,3.2, 3.6,3.5,3.3,3.2,3.3,3.5,3.4,3.6,3.3,3.5];
const CHR12_LOW = [-5.8,-6.5,-4.2,-3.5,-3.9,-3.3,-4.1,-3.6,-3.2,-3.8, -3.4,-3.9,-3.1,-5.5,-3.7,-4.0,-3.3,-3.6,-3.2,-3.9, -3.5,-3.1,-3.8,-3.4,-4.1,-3.2,-3.7,-3.3,-3.9,-3.5, -3.2,-3.8,-3.4,-3.6,-4.0,-3.3,-3.7,-3.1,-3.9,-3.4, -3.6,-3.2,-3.8,-3.5,-3.1,-3.9,-3.3,-3.7,-3.4,-3.2, -3.8,-5.5,-3.3,-3.9,-3.6,-3.2,-3.7,-6.0,-6.5,-3.4, -3.9,-3.5,-3.2,-3.8,-3.4,-5.8,-3.6,-3.3,-3.9,-3.5, -3.2,-3.7,-3.4,-5.5,-3.8,-3.1,-3.6,-3.3,-3.9,-3.5, -3.2,-3.8,-3.4,-3.6,-3.1,-3.9,-3.3,-3.7,-3.5,-3.2, -3.8,-3.4,-3.6,-3.1,-3.9,-3.5,-3.3,-3.7,-3.2,-3.8, -5.7,-3.5,-3.9,-3.3,-3.6,-4.0,-3.4,-3.8,-3.2,-3.6, -6.3,-3.9,-3.5,-4.1,-3.3,-3.7,-6.0,-4.0,-3.6,-4.3];
const CHR12_LOWB = [-4.5,-4.9,-3.8,-4.3,-3.5,-4.6,-3.4,-3.9,-3.2,-3.7, -3.1,-3.5,-3.8,-3.3,-3.0,-3.6,-3.9,-3.2,-3.5,-3.1, -3.7,-3.4,-3.0,-3.6,-3.3,-3.8,-3.1,-3.5,-3.2,-3.9, -3.4,-3.0,-3.7,-3.3,-3.5,-3.1,-3.8,-3.4,-3.2,-3.6, -3.0,-3.5,-3.3,-3.9,-3.2,-3.6,-3.1,-3.4,-3.8,-3.5, -3.3,-4.2,-3.6,-4.5,-3.9,-4.8,-3.5,-4.1,-4.4,-3.7, -3.2,-3.8,-4.0,-3.4,-3.7,-4.3,-3.1,-3.6,-3.9,-3.3, -3.5,-3.0,-3.8,-3.2,-3.6,-3.4,-3.9,-3.1,-3.7,-3.3, -3.6,-3.2,-3.5,-3.9,-3.0,-3.4,-3.7,-3.2,-3.8,-3.5, -3.1,-3.6,-3.3,-3.8,-3.5,-3.2,-3.9,-3.4,-3.6,-3.0, -3.7,-3.3,-4.1,-3.5,-3.8,-3.2,-3.6,-4.0,-3.4,-3.9, -4.4,-3.6,-4.2,-3.8,-4.6,-3.5,-4.0,-3.7,-4.3,-3.9];
const CHR_UP = [CHR1_UP,CHR2_UP,CHR3_UP,CHR4_UP,CHR5_UP,CHR6_UP,CHR7_UP,CHR8_UP,CHR9_UP,CHR10_UP,CHR11_UP,CHR12_UP];
const CHR_UPB = [CHR1_UPB,CHR2_UPB,CHR3_UPB,CHR4_UPB,CHR5_UPB,CHR6_UPB,CHR7_UPB,CHR8_UPB,CHR9_UPB,CHR10_UPB,CHR11_UPB,CHR12_UPB];
const CHR_LOW = [CHR1_LOW,CHR2_LOW,CHR3_LOW,CHR4_LOW,CHR5_LOW,CHR6_LOW,CHR7_LOW,CHR8_LOW,CHR9_LOW,CHR10_LOW,CHR11_LOW,CHR12_LOW];
const CHR_LOWB = [CHR1_LOWB,CHR2_LOWB,CHR3_LOWB,CHR4_LOWB,CHR5_LOWB,CHR6_LOWB,CHR7_LOWB,CHR8_LOWB,CHR9_LOWB,CHR10_LOWB,CHR11_LOWB,CHR12_LOWB];

// ---------- Panel D: box plots [min, Q1, median, Q3, max] ----------
const D_POSITIONS = ['−10K','','−5K','','TE region','','+5K','','+10K'];
const D_TE_INDEX = 4;
const D_TITLES = ['WT small TE','WT large TE','RL small TE','RL Large TE'];
const WT_SMALL = [[0,2.7,8.3,17.8,39.6],[0,2.7,8.3,18.1,40.7],[0,3.4,8.7,18.8,41.7],[0,4.9,11.8,21.8,47.0],[0,8.4,26.7,65.6,152],[0,4.9,11.8,21.8,47.0],[0,3.4,8.7,18.8,41.7],[0,2.7,8.3,18.1,40.7],[0,0.3,10.1,11.9,15.0]];
const WT_LARGE = [[0,2.7,6.0,13.6,29.6],[0,2.7,6.0,13.6,29.6],[0,2.7,6.0,13.6,29.6],[0,3.6,7.2,13.9,29.6],[0,3.3,6.3,12.8,27.1],[0,3.6,7.2,13.6,28.5],[0,2.7,6.0,13.6,29.6],[0,2.7,6.0,13.6,29.6],[0,2.7,6.4,13.6,29.6]];
const RL_SMALL = [[0,2.5,6.3,12.7,28.4],[0,2.5,6.6,13.1,28.9],[0,2.7,7.0,14.1,30.2],[0,3.8,8.4,16.0,34.0],[0,5.7,20.0,48.9,113],[0,3.8,8.4,16.0,34.0],[0,2.7,7.0,13.5,29.7],[0,2.5,6.3,13.1,29.2],[0,2.5,6.3,12.7,28.6]];
const RL_LARGE = [[0,1.94,4.4,9.65,20.8],[0,1.94,4.4,9.65,20.8],[0,1.94,4.4,9.65,20.8],[0,2.4,4.8,9.65,20.4],[0,2.2,4.2,8.4,17.9],[0,2.4,4.8,9.65,20.4],[0,1.94,4.4,9.65,20.8],[0,1.94,4.4,9.65,20.8],[0,1.94,4.4,9.65,20.8]];
const D_DATA = [WT_SMALL, WT_LARGE, RL_SMALL, RL_LARGE];
const D_YTICKS = [[0,50,100,150],[0,5,10,15,20,25,30],[0,20,40,60,80,100],[0,5,10,15,20]];

// ================= layout (pixels) =================
const B_LAYOUT = [
  [2390, 211, 823, 359, 2846, 183],
  [3432, 220, 826, 352, 3867, 183],
  [2390, 737, 823, 346, 2816, 709],
  [3429, 725, 817, 346, 3867, 712],
  [2385, 1234, 826, 343, 2802, 1195],
  [3429, 1213, 826, 343, 3871, 1192],
  [2385, 1784, 826, 343, 2809, 1755],
  [3421, 1770, 825, 346, 3844, 1751],
  [2390, 2320, 823, 344, 2818, 2293],
  [3429, 2308, 826, 339, 3884, 2286],
  [2390, 2873, 823, 345, 2832, 2844],
  [3425, 2863, 821, 347, 3867, 2824]
];
const D_LAYOUT = [
  {left:343, top:1657, width:712, height:636, ymin:-6.5, ymax:158.6, tx:699, ty:1609, bold:true},
  {left:1283, top:1657, width:710, height:636, ymin:-1.26, ymax:30.9, tx:1633, ty:1611, bold:true},
  {left:343, top:2499, width:711, height:637, ymin:-4.8, ymax:117.9, tx:693, ty:2453, bold:false},
  {left:1282, top:2499, width:711, height:637, ymin:-0.88, ymax:21.66, tx:1639, ty:2453, bold:false}
];

// fit the 4361x3283 drawing into the actual viewport if it differs
const box = document.getElementById('c');
const vw = window.innerWidth || 4361, vh = window.innerHeight || 3283;
const sx = vw / 4361, sy = vh / 3283;
if (Math.abs(sx - 1) > 0.002 || Math.abs(sy - 1) > 0.002) box.style.transform = 'scale(' + sx + ',' + sy + ')';

const grids = [], xAxes = [], yAxes = [], series = [], titles = [];
const txt = (size, weight) => ({fontFamily: SERIF, fontSize: size, fontWeight: weight || 'normal', color: '#000'});
const pct = v => v === 0 ? '0' : v + '%';
const mkTitle = (text, x, y, size, weight) => ({text, left: x, top: y, textAlign: 'center', textVerticalAlign: 'middle', padding: 0, textStyle: txt(size, weight)});

// ---- Panel A ----
grids.push({left:176, top:343, width:1070, height:1023});
xAxes.push({gridIndex:0, type:'category', data:A_LENGTHS,
  axisLine:{lineStyle:{color:'#000', width:5}}, axisTick:{show:false},
  axisLabel:Object.assign(txt(58), {margin:12}),
  name:'(nt)', nameLocation:'end', nameGap:12,
  nameTextStyle:Object.assign(txt(58), {verticalAlign:'top', padding:[12,0,0,0]})});
yAxes.push({gridIndex:0, type:'value', min:0, max:41.2,
  axisLine:{show:true, lineStyle:{color:'#000', width:4}}, axisTick:{show:false}, splitLine:{show:false},
  axisLabel:Object.assign(txt(44,'bold'), {margin:12, formatter:pct, customValues:A_TICKS})});
series.push({name:'WT', type:'bar', xAxisIndex:0, yAxisIndex:0, data:A_WT, barGap:'0%', barCategoryGap:'21%',
  itemStyle:{color:'#ffffff', borderColor:'#000', borderWidth:2.5}});
series.push({name:'RL', type:'bar', xAxisIndex:0, yAxisIndex:0, data:A_RL, barGap:'0%', barCategoryGap:'21%',
  itemStyle:{color:'#000000'}});

// ---- Panel C ----
grids.push({left:1203, top:184, width:893, height:798});
xAxes.push({gridIndex:1, type:'value', min:0, max:100, interval:20,
  axisLine:{show:true, lineStyle:{color:'#000', width:3}}, axisTick:{show:false}, splitLine:{show:false},
  axisLabel:Object.assign(txt(46,'bold'), {margin:12, formatter:pct})});
yAxes.push({gridIndex:1, type:'category', data:C_CLASSES, inverse:true,
  axisLine:{show:true, lineStyle:{color:'#999', width:2}}, axisTick:{show:false},
  axisLabel:Object.assign(txt(60), {margin:4})});
series.push({name:'WT', type:'bar', xAxisIndex:1, yAxisIndex:1, stack:'share', data:C_WT, barCategoryGap:'58%',
  itemStyle:{color:'#ffffff', borderColor:'#000', borderWidth:3}});
series.push({name:'RL', type:'bar', xAxisIndex:1, yAxisIndex:1, stack:'share', data:C_RL, barCategoryGap:'58%',
  itemStyle:{color:'#000000', borderColor:'#000', borderWidth:1}});
series.push({type:'custom', xAxisIndex:1, yAxisIndex:1, silent:true, z:5,
  data:C_WT.map((v,i)=>[v,i]), encode:{x:0, y:1},
  renderItem:function(params, api){
    const i = params.dataIndex;
    if (i >= C_WT.length - 1) return {type:'group', children:[]};
    const p0 = api.coord([C_WT[i], i]);
    const p1 = api.coord([C_WT[i+1], i+1]);
    const half = api.size([0,1])[1] * 0.42 / 2;
    return {type:'line', shape:{x1:p0[0], y1:p0[1]+half, x2:p1[0], y2:p1[1]-half},
      style:{stroke:'#ff3355', lineWidth:2}};
  }});

// ---- Panel B ----
const bFmt = v => v < 0 ? '\u2212' + Math.abs(v) : String(v);
const toPoints = (arr, shift) => {
  const out = [];
  arr.forEach((v,i) => { if (v !== null) out.push([(i + shift)/arr.length*0.99, v]); });
  return out;
};
CHR_NAMES.forEach((name, k) => {
  const L = B_LAYOUT[k];
  const gi = grids.length;
  grids.push({left:L[0], top:L[1], width:L[2], height:L[3]});
  xAxes.push({gridIndex:gi, type:'value', min:0, max:1,
    axisLine:{show:true, onZero:true, lineStyle:{color:'#000', width:7}},
    axisTick:{show:false}, axisLabel:{show:false}, splitLine:{show:false}});
  yAxes.push({gridIndex:gi, type:'value', min:-10, max:10, interval:5,
    axisLine:{show:true, lineStyle:{color:'#000', width:5}},
    axisTick:{show:true, inside:true, length:8, lineStyle:{color:'#000', width:3}},
    splitLine:{show:false},
    axisLabel:Object.assign(txt(50), {margin:14, formatter:bFmt})});
  const sc = {type:'scatter', xAxisIndex:gi, yAxisIndex:gi, symbol:'diamond',
    itemStyle:{color:'#1a1a8a', opacity:1}, silent:true, z:2};
  series.push(Object.assign({}, sc, {data:toPoints(CHR_UP[k], 0.5), symbolSize:[12,13]}));
  series.push(Object.assign({}, sc, {data:toPoints(CHR_UPB[k], 1.0), symbolSize:[12,13]}));
  series.push(Object.assign({}, sc, {data:toPoints(CHR_LOW[k], 0.5), symbolSize:[13,14]}));
  series.push(Object.assign({}, sc, {data:toPoints(CHR_LOWB[k], 1.0), symbolSize:[13,14]}));
  series.push({type:'line', xAxisIndex:gi, yAxisIndex:gi, clip:false, symbol:'none', silent:true, z:4,
    data:[[CHR_CENTRO[k], CHR_RED_TOP[k]], [CHR_CENTRO[k], CHR_RED_BOTTOM[k]]],
    lineStyle:{color:'#ff2a10', width:3}});
  titles.push(mkTitle(name, L[4], L[5], 68));
});

// ---- Panel D ----
function boxItem(params, api){
  const x = api.value(0);
  const lo = api.coord([x, api.value(1)]);
  const q1 = api.coord([x, api.value(2)]);
  const md = api.coord([x, api.value(3)]);
  const q3 = api.coord([x, api.value(4)]);
  const hi = api.coord([x, api.value(5)]);
  const w = api.size([0.5, 0])[0];
  const cap = w * 0.22;
  const cx = md[0];
  const fill = (Math.round(x) - 1) === D_TE_INDEX ? '#ff0000' : '#bebebe';
  const dash = {stroke:'#333', lineWidth:2.5, lineDash:[9,7]};
  const solid = {stroke:'#333', lineWidth:3};
  return {type:'group', children:[
    {type:'line', shape:{x1:cx, y1:q3[1], x2:cx, y2:hi[1]}, style:dash},
    {type:'line', shape:{x1:cx, y1:q1[1], x2:cx, y2:lo[1]}, style:dash},
    {type:'line', shape:{x1:cx-cap, y1:hi[1], x2:cx+cap, y2:hi[1]}, style:solid},
    {type:'line', shape:{x1:cx-cap, y1:lo[1], x2:cx+cap, y2:lo[1]}, style:solid},
    {type:'rect', shape:{x:cx-w/2, y:q3[1], width:w, height:q1[1]-q3[1]}, style:{fill:fill, stroke:'#333', lineWidth:2.5}},
    {type:'line', shape:{x1:cx-w/2, y1:md[1], x2:cx+w/2, y2:md[1]}, style:{stroke:'#000', lineWidth:7}}
  ]};
}
D_DATA.forEach((rows, k) => {
  const L = D_LAYOUT[k];
  const gi = grids.length;
  grids.push({left:L.left, top:L.top, width:L.width, height:L.height, show:true, borderColor:'#444', borderWidth:3, backgroundColor:'transparent'});
  xAxes.push({gridIndex:gi, type:'value', min:0.12, max:9.88,
    axisLine:{show:false}, splitLine:{show:false},
    axisTick:{show:true, length:16, lineStyle:{color:'#333', width:2.5}, customValues:[1,2,3,4,5,6,7,8,9]},
    axisLabel:Object.assign(txt(46), {margin:28, customValues:[1,3,5,7,9], formatter:v => D_POSITIONS[Math.round(v)-1]})});
  yAxes.push({gridIndex:gi, type:'value', min:L.ymin, max:L.ymax,
    axisLine:{show:false}, splitLine:{show:false},
    axisTick:{show:true, length:16, lineStyle:{color:'#333', width:2.5}, customValues:D_YTICKS[k]},
    axisLabel:Object.assign(txt(44), {margin:22, customValues:D_YTICKS[k]})});
  series.push({type:'custom', xAxisIndex:gi, yAxisIndex:gi, silent:true,
    data:rows.map((r,i) => [i+1].concat(r)), encode:{x:0, y:[1,2,3,4,5]},
    renderItem:boxItem});
  titles.push(mkTitle(D_TITLES[k], L.tx, L.ty, 52, L.bold ? 'bold' : 'normal'));
});

// ---- panel letters ----
titles.push(mkTitle('A', 127, 113, 115));
titles.push(mkTitle('C', 1120, 118, 115));
titles.push(mkTitle('B', 2257, 128, 115));
titles.push(mkTitle('D', 233, 1578, 115));

const legendBase = {orient:'horizontal', icon:'roundRect', selectedMode:false,
  textStyle:Object.assign(txt(44,'bold'), {color:'#222', padding:[0,0,0,42]}),
  data:[{name:'WT', itemStyle:{color:'#f6f4f4', borderColor:'#222', borderWidth:4}},
        {name:'RL', itemStyle:{color:'#120306', borderColor:'#120306', borderWidth:1}}]};

const chart = echarts.init(box, null, {renderer:'canvas', width:4361, height:3283});
chart.setOption({
  animation:false,
  backgroundColor:'#ffffff',
  title:titles,
  legend:[
    Object.assign({}, legendBase, {left:176, top:182, itemWidth:61, itemHeight:55, itemGap:141}),
    Object.assign({}, legendBase, {left:1584, top:98, itemWidth:60, itemHeight:60, itemGap:141})
  ],
  grid:grids, xAxis:xAxes, yAxis:yAxes, series:series
});
</script>
</body></html>
